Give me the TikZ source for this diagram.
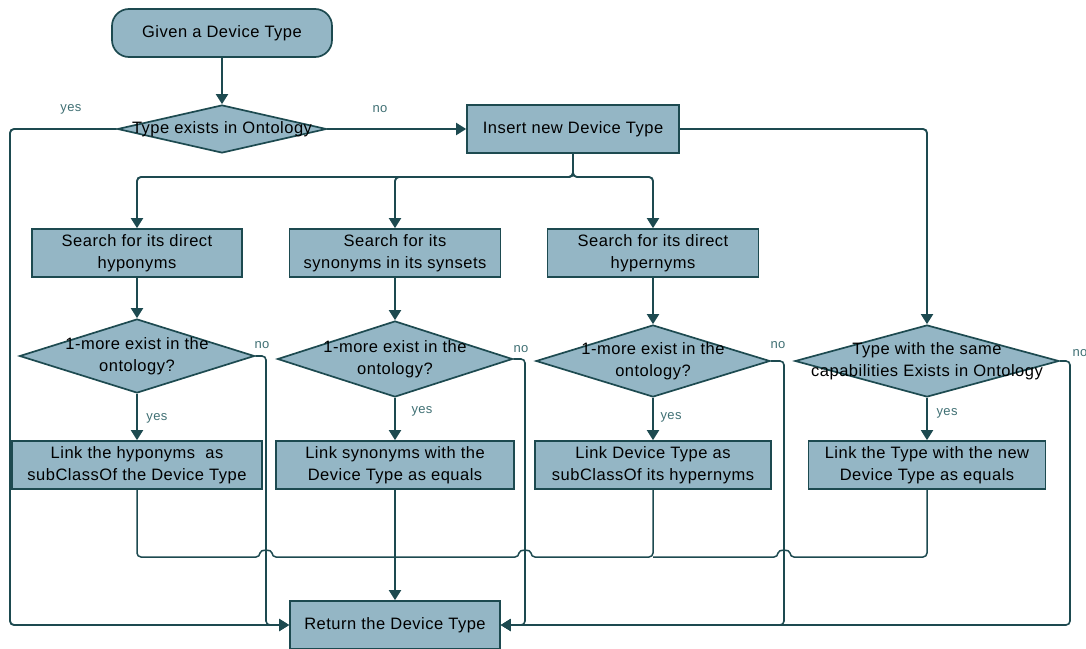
\documentclass[tikz,border=0pt]{standalone}
\usepackage{fontspec}
\setmainfont{Liberation Sans}[LetterSpace=3]
\usetikzlibrary{shapes.geometric}
\usetikzlibrary{arrows.meta}

\definecolor{boxfill}{HTML}{94B6C5}
\definecolor{edge}{HTML}{1D4A50}
\definecolor{tagc}{HTML}{3F6F73}
\newcommand\boxfont{\fontsize{16.5}{22}\selectfont}

\begin{document}
\begin{tikzpicture}[x=1pt,y=-1pt,
  box/.style={draw=edge,line width=1.7pt,fill=boxfill,minimum height=48pt,
    inner sep=0pt,align=center,font=\boxfont},
  ask/.style={diamond,draw=edge,line width=1.7pt,fill=boxfill,inner sep=0pt},
  flow/.style={draw=edge,line width=1.9pt,rounded corners=4pt,
    -{Triangle[length=10pt,width=12pt]}},
  gather/.style={draw=edge,line width=1.5pt,rounded corners=4pt},
  tag/.style={text=tagc,font=\fontsize{13}{13}\selectfont}]
        \useasboundingbox (0,0) rectangle (1086,648);

        % top of the chart
        \node[box,rounded corners=17pt,minimum width=220pt] (start) at (222,33) {Given a Device Type};
        \node[ask,minimum width=209pt,minimum height=48pt,
          label={[font=\boxfont]center:Type exists in Ontology}] (exists) at (222,129) {};
        \node[box,minimum width=212pt] (insert) at (573,129) {Insert new Device Type};
        \node[box,minimum width=210pt] (ret) at (395,625) {Return the Device Type};

        % searches
        \node[box,minimum width=210pt] (hypo) at (137,253) {Search for its direct\\hyponyms};
        \node[box,minimum width=211pt] (syn) at (395,253) {Search for its\\synonyms in its synsets};
        \node[box,minimum width=211pt] (hyper) at (653,253) {Search for its direct\\hypernyms};

        % questions
        \node[ask,minimum width=235pt,minimum height=74pt,
          label={[font=\boxfont,align=center]center:1-more exist in the\\ontology?}] (qhypo) at (137,356) {};
        \node[ask,minimum width=235pt,minimum height=76pt,
          label={[font=\boxfont,align=center]center:1-more exist in the\\ontology?}] (qsyn) at (395,359) {};
        \node[ask,minimum width=234pt,minimum height=72pt,
          label={[font=\boxfont,align=center]center:1-more exist in the\\ontology?}] (qhyper) at (653,361) {};
        \node[ask,minimum width=264pt,minimum height=72pt,
          label={[font=\boxfont,align=center]center:Type with the same\\capabilities Exists in Ontology}] (qcap) at (927,361) {};

        % links
        \node[box,minimum width=250pt] (lhypo) at (137,465) {Link the hyponyms\ \ as\\subClassOf the Device Type};
        \node[box,minimum width=238pt] (lsyn) at (395,465) {Link synonyms with the\\Device Type as equals};
        \node[box,minimum width=236pt] (lhyper) at (653,465) {Link Device Type as\\subClassOf its hypernyms};
        \node[box,minimum width=237pt] (lcap) at (927,465) {Link the Type with the new\\Device Type as equals};

        \coordinate (split) at (573,177);
        \coordinate (far) at (10,625);

        \draw[flow] (start) -- (exists);
        \draw[flow] (exists.east) -- (insert.west);
        \draw[flow] (exists.west) -| (far) -- (ret.west);
        \draw[flow] (insert.south) -- (split) -| (hypo.north);
        \draw[flow] (insert.south) -- (split) -| (syn.north);
        \draw[flow] (insert.south) -- (split) -| (hyper.north);
        \draw[flow] (insert.east) -| (qcap.north);

        \draw[flow] (hypo) -- (qhypo);
        \draw[flow] (syn) -- (qsyn);
        \draw[flow] (hyper) -- (qhyper);
        \draw[flow] (qhypo) -- (lhypo);
        \draw[flow] (qsyn) -- (lsyn);
        \draw[flow] (qhyper) -- (lhyper);
        \draw[flow] (qcap) -- (lcap);

        % the "no" ways down
        \draw[flow,line width=1.6pt] (qhypo.east) -| (266,625) -- (ret.west);
        \draw[flow,line width=1.6pt] (qsyn.east) -| (525,625) -- (ret.east);
        \draw[flow,line width=1.6pt] (qhyper.east) -| (784,625) -- (ret.east);
        \draw[flow,line width=1.6pt] (qcap.east) -| (1070,625) -- (ret.east);

        % results gathered, hopping over the "no" lines
        \draw[gather] (lhypo.south) |- (260,557) to[out=90,in=90,looseness=1.7] (272,557) -- (395,557);
        \draw[gather] (lhyper.south) |- (531,557) to[out=90,in=90,looseness=1.7] (519,557) -- (395,557);
        \draw[gather] (lcap.south) |- (790,557) to[out=90,in=90,looseness=1.7] (778,557) -- (653,557);
        \draw[flow] (lsyn) -- (ret);

        \node[tag] (y0) at (71,109) {yes};
        \node[tag] (n0) at (380,109) {no};
        \node[tag] (y1) at (157,418) {yes};
        \node[tag] (y2) at (422,411) {yes};
        \node[tag] (y3) at (671,417) {yes};
        \node[tag] (y4) at (947,413) {yes};
        \node[tag] (n1) at (262,345) {no};
        \node[tag] (n2) at (521,349) {no};
        \node[tag] (n3) at (778,345) {no};
        \node[tag] (n4) at (1080,353) {no};
\end{tikzpicture}
\end{document}
